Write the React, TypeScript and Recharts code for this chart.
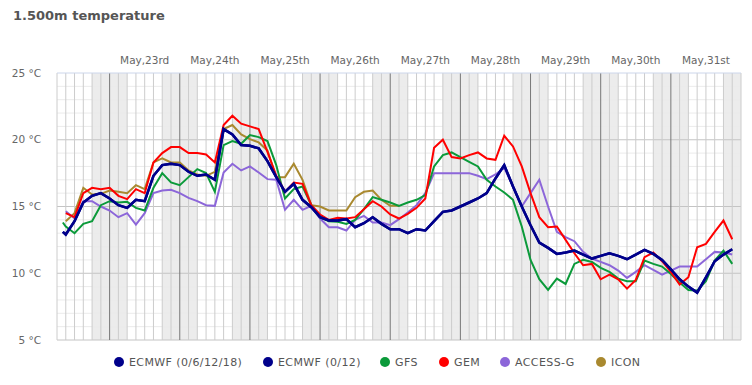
import React from "react";
import {
  LineChart,
  Line,
  XAxis,
  YAxis,
  ReferenceArea,
  ReferenceLine,
} from "recharts";

// hours counted from May 22nd 00:00
const hours = [
  8, 9, 12, 15, 18, 21, 24, 27, 30, 33, 36, 39, 42, 45, 48, 51, 54, 57, 60, 63,
  66, 69, 72, 75, 78, 81, 84, 87, 90, 93, 96, 99, 102, 105, 108, 111, 114, 117,
  120, 123, 126, 129, 132, 135, 138, 141, 144, 147, 150, 153, 156, 159, 162,
  165, 168, 171, 174, 177, 180, 183, 186, 189, 192, 195, 198, 201, 204, 207,
  210, 213, 216, 219, 222, 225, 228, 231, 234, 237,
];

const ecmwf0618 = [
  13.1, 12.9, 13.9, 15.3, 15.8, 16.0, 15.6, 15.1, 14.9, 15.5, 15.4,
  17.3, 18.1, 18.2, 18.1, 17.6, 17.3, 17.4, 17.0, 20.8, 20.4,
  19.6, 19.55, 19.35, 18.4, 17.2, 16.1, 16.7, 15.5, 14.95, 14.2,
  13.95, 13.95, 14.05, 13.45, 13.75, 14.2, 13.7, 13.3, 13.3, 13.0,
  13.3, 13.2, 13.9, 14.6, 14.7, 15.0, 15.3, 15.6, 16.0, 17.1,
  18.1, 16.5, 15.0, 13.6, 12.3, 11.9, 11.45, 11.55, 11.7, 11.4,
  11.1, 11.3, 11.5, 11.3, 11.05, 11.4, 11.75, 11.45, 11.0, 10.3,
  9.55, 9.0, 8.55, 9.7, 10.9, 11.4, 11.8,
];

const ecmwf012 = [
  13.1, 12.9, 13.9, 15.3, 15.8, 16.0, 15.6, 15.1, 14.9, 15.5, 15.4,
  17.3, 18.1, 18.2, 18.1, 17.6, 17.3, 17.4, 17.0, 20.8, 20.4,
  19.6, 19.55, 19.35, 18.4, 17.2, 16.1, 16.7, 15.5, 14.95, 14.2,
  13.95, 13.95, 14.05, 13.45, 13.75, 14.2, 13.7, 13.3, 13.3, 13.0,
  13.3, 13.2, 13.9, 14.6, 14.7, 15.0, 15.3, 15.6, 16.0, 17.1,
  18.1, 16.5, 15.0, 13.6, 12.3, 11.9, 11.45, 11.55, 11.7, 11.4,
  11.1, 11.3, 11.5, 11.3, 11.05, 11.4, 11.75, 11.45, 11.0, 10.3,
  9.55, 9.0, 8.55, 9.7, 10.9, 11.4, 11.8,
];

const gfs = [
  13.8, 13.5, 13.0, 13.7, 13.9, 15.1, 15.4, 15.3, 15.35, 14.9, 14.7,
  16.4, 17.5, 16.8, 16.6, 17.2, 17.8, 17.5, 16.1, 19.6, 19.9,
  19.7, 20.35, 20.2, 19.9, 18.1, 15.6, 16.3, 16.5, 15.1, 14.2,
  13.9, 13.85, 13.7, 14.0, 14.8, 15.7, 15.5, 15.3, 15.05, 15.3,
  15.5, 15.85, 18.0, 18.85, 19.05, 18.7, 18.35, 18.0, 17.0, 16.5,
  16.05, 15.5, 13.5, 11.0, 9.55, 8.75, 9.6, 9.2, 10.7, 11.0,
  10.85, 10.4, 10.1, 9.6, 9.4, 9.4, 10.95, 10.7, 10.5, 9.95,
  9.3, 8.75, 8.7, 9.4, 10.95, 11.7, 10.7,
];

const gem = [
  null, 14.5, 14.2, 16.0, 16.4, 16.3, 16.4, 15.8, 15.55, 16.3, 16.0,
  18.3, 19.0, 19.45, 19.45, 19.0, 19.0, 18.9, 18.3, 21.1, 21.8,
  21.2, 21.0, 20.8, 19.1, 17.3, 16.1, 16.8, 16.7, 15.1, 14.4,
  14.0, 14.15, 14.1, 14.2, 14.8, 15.4, 15.0, 14.4, 14.1, 14.45,
  14.9, 15.6, 19.4, 20.0, 18.7, 18.6, 18.85, 19.05, 18.6, 18.5,
  20.3, 19.5, 18.0, 16.0, 14.2, 13.45, 13.5, 12.5, 11.5, 10.6,
  10.7, 9.55, 9.9, 9.55, 8.85, 9.5, 11.2, 11.55, 10.9, 10.1,
  9.15, 9.7, 11.95, 12.2, 13.1, 13.95, 12.55,
];

const accessG = [
  null, 14.65, 14.1, 15.4, 15.4, 15.0, 14.7, 14.2, 14.5, 13.65, 14.5,
  16.0, 16.2, 16.25, 16.0, 15.65, 15.4, 15.1, 15.05, 17.55, 18.2,
  17.7, 18.0, 17.55, 17.05, 17.0, 14.75, 15.5, 14.75, 15.05, 14.1,
  13.45, 13.45, 13.2, 14.0, 14.3, 13.8, 13.8, 13.6, 14.05, 14.55,
  15.1, 16.0, 17.5, 17.5, 17.5, 17.5, 17.5, 17.3, 17.05, 17.4,
  17.9, 16.5, 15.0, 16.0, 17.0, 15.0, 13.1, 12.7, 12.4, 11.6,
  11.1, 10.85, 10.6, 10.2, 9.65, 10.1, 10.6, 10.25, 9.9, 10.2,
  10.5, 10.5, 10.5, 11.05, 11.6, 11.55, 11.4,
];

const icon = [
  null, 13.9, 14.5, 16.4, 15.9, 15.95, 16.2, 16.1, 16.0, 16.6, 16.3,
  18.3, 18.6, 18.3, 18.3, 17.7, 17.4, 17.3, 17.6, 20.8, 21.1,
  20.4, 20.05, 19.8, 19.2, 17.2, 17.2, 18.2, 17.0, 15.1, 15.0,
  14.7, 14.7, 14.7, 15.7, 16.1, 16.2, 15.5, 15.05, 15.05,
];

const dayTicks = [36, 60, 84, 108, 132, 156, 180, 204, 228];
const dayLabels = [
  "May,23rd", "May,24th", "May,25th", "May,26th", "May,27th",
  "May,28th", "May,29th", "May,30th", "May,31st",
];
const midnights = [24, 48, 72, 96, 120, 144, 168, 192, 216];
const nightStart = [18, 42, 66, 90, 114, 138, 162, 186, 210, 234];
const nightEnd = [30, 54, 78, 102, 126, 150, 174, 198, 222, 240];
const tempTicks = [5, 10, 15, 20, 25];

const series = [
  { key: "icon", name: "ICON", color: "#a9892f", width: 2 },
  { key: "accessG", name: "ACCESS-G", color: "#8c66d9", width: 2 },
  { key: "gfs", name: "GFS", color: "#0b9a3a", width: 2 },
  { key: "gem", name: "GEM", color: "#ff0000", width: 2 },
  { key: "ecmwf012", name: "ECMWF (0/12)", color: "#00008b", width: 2.5 },
  { key: "ecmwf0618", name: "ECMWF (0/6/12/18)", color: "#00008b", width: 2.5 },
];

const legendItems = [
  { name: "ECMWF (0/6/12/18)", color: "#00008b", x: 119 },
  { name: "ECMWF (0/12)", color: "#00008b", x: 268 },
  { name: "GFS", color: "#0b9a3a", x: 385 },
  { name: "GEM", color: "#ff0000", x: 444 },
  { name: "ACCESS-G", color: "#8c66d9", x: 505 },
  { name: "ICON", color: "#a9892f", x: 601 },
];

const data = hours.map((h, i) => ({
  h,
  ecmwf0618: ecmwf0618[i],
  ecmwf012: ecmwf012[i],
  gfs: gfs[i],
  gem: gem[i],
  accessG: accessG[i],
  icon: i < icon.length ? icon[i] : null,
}));

const threeHourLines = Array.from({ length: 79 }, (_, i) => 6 + i * 3).filter(
  (h) => !midnights.includes(h)
);
const degreeLines = Array.from({ length: 20 }, (_, i) => 5 + i);

const font = "'DejaVu Sans', sans-serif";

const App: React.FC = () => {
  return (
    <div
      style={{
        position: "absolute",
        left: 0,
        top: 0,
        width: 752,
        height: 385,
        background: "#fff",
        fontFamily: font,
      }}
    >
      <div
        style={{
          position: "absolute",
          left: 13,
          top: 8,
          fontSize: 13,
          lineHeight: "16px",
          fontWeight: "bold",
          color: "#555",
        }}
      >
        1.500m temperature
      </div>
      <LineChart
        width={752}
        height={385}
        data={data}
        margin={{ top: 43, right: 11, bottom: 45, left: 0 }}
      >
        <XAxis
          type="number"
          dataKey="h"
          domain={[6, 240]}
          ticks={dayTicks}
          interval={0}
          orientation="top"
          height={30}
          tickLine={false}
          tickMargin={3}
          axisLine={{ stroke: "#ccd6eb" }}
          tick={{ fill: "#666", fontSize: 10.5, fontFamily: font }}
          tickFormatter={(v: number) => dayLabels[dayTicks.indexOf(v)]}
        />
        <YAxis
          domain={[5, 25]}
          ticks={tempTicks}
          width={57}
          axisLine={false}
          tickLine={false}
          tickMargin={10}
          tick={{ fill: "#666", fontSize: 10.5, fontFamily: font }}
          tickFormatter={(v: number) => `${v} °C`}
        />
        {nightStart.map((s, i) => (
          <ReferenceArea
            key={"n" + s}
            x1={s}
            x2={nightEnd[i]}
            fill="#ececec"
            fillOpacity={1}
            stroke="none"
          />
        ))}
        {degreeLines.map((t) => (
          <ReferenceLine
            key={"t" + t}
            y={t}
            stroke={t % 5 === 0 ? "#c4c4c4" : "#ebebeb"}
            strokeWidth={1}
          />
        ))}
        {threeHourLines.map((h) => (
          <ReferenceLine key={"g" + h} x={h} stroke="#cccccc" strokeWidth={1} />
        ))}
        {midnights.map((h) => (
          <ReferenceLine key={"d" + h} x={h} stroke="#777" strokeWidth={1} />
        ))}
        {series.map((s) => (
          <Line
            key={s.key}
            type="linear"
            dataKey={s.key}
            name={s.name}
            stroke={s.color}
            strokeWidth={s.width}
            dot={false}
            activeDot={false}
            isAnimationActive={false}
          />
        ))}
      </LineChart>
      {legendItems.map((it) => (
        <div key={it.name}>
          <div
            style={{
              position: "absolute",
              left: it.x - 5,
              top: 357,
              width: 10,
              height: 10,
              borderRadius: 5,
              background: it.color,
            }}
          />
          <div
            style={{
              position: "absolute",
              left: it.x + 10,
              top: 357,
              fontSize: 11,
              lineHeight: "11px",
              letterSpacing: 0.4,
              color: "#555",
              whiteSpace: "nowrap",
            }}
          >
            {it.name}
          </div>
        </div>
      ))}
    </div>
  );
};

export default App;
